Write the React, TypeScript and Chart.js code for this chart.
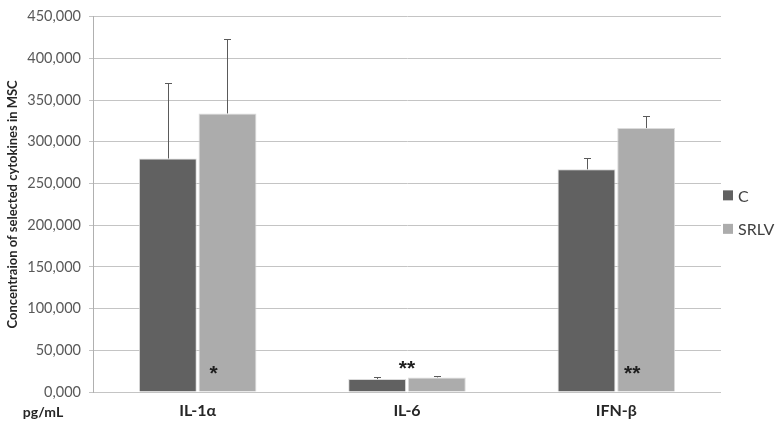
import React, { useEffect, useRef } from "react";
import { Chart, registerables } from "chart.js";

Chart.register(...registerables);

const categories = ["IL-1α", "IL-6", "IFN-β"];
const seriesNames = ["C", "SRLV"];
const cValues = [280, 15.5, 267];
const srlvValues = [334, 17.5, 316.5];
const cErrors = [91, 2, 13.5];
const srlvErrors = [89, 2, 14];
const sigLabels = ["*", "**", "**"];
const yTicks = [0, 50, 100, 150, 200, 250, 300, 350, 400, 450];

const FONT = "Lato, 'Open Sans', sans-serif";
const COLORS = ["#616161", "#acacac"];

const overlayPlugin = {
  id: "overlay",
  afterDatasetsDraw(chart: any) {
    const ctx = chart.ctx;
    const y = chart.scales.y;
    const errs = [cErrors, srlvErrors];
    const vals = [cValues, srlvValues];
    ctx.save();
    // error bars
    ctx.strokeStyle = "#5a5a5a";
    ctx.lineWidth = 1;
    for (let d = 0; d < 2; d++) {
      const meta = chart.getDatasetMeta(d);
      meta.data.forEach((el: any, j: number) => {
        const top = y.getPixelForValue(vals[d][j] + errs[d][j]);
        const x = Math.round(el.x) + 0.5;
        const yt = Math.round(top) + 0.5;
        ctx.beginPath();
        ctx.moveTo(x, el.y);
        ctx.lineTo(x, yt);
        ctx.moveTo(x - 3.5, yt);
        ctx.lineTo(x + 3.5, yt);
        ctx.stroke();
      });
    }
    // significance marks
    ctx.fillStyle = "#1e1e1e";
    ctx.font = `bold 21px 'Liberation Sans', Arial, sans-serif`;
    ctx.textAlign = "center";
    ctx.textBaseline = "middle";
    const m0 = chart.getDatasetMeta(0);
    const m1 = chart.getDatasetMeta(1);
    sigLabels.forEach((lab, j) => {
      const a = m0.data[j];
      const b = m1.data[j];
      const small = srlvValues[j] < 40;
      if (small) {
        const x = (a.x + b.x) / 2;
        const yy = y.getPixelForValue(srlvValues[j] + errs[1][j] + 8);
        ctx.fillText(lab, x, yy);
      } else {
        const x = b.x - b.width * 0.24;
        const yy = y.getPixelForValue(21);
        ctx.fillText(lab, x, yy);
      }
    });
    // y title
    const ca = chart.chartArea;
    ctx.save();
    ctx.translate(13, (ca.top + ca.bottom) / 2);
    ctx.rotate(-Math.PI / 2);
    ctx.fillStyle = "#262626";
    ctx.font = `bold 13px ${FONT}`;
    ctx.textAlign = "center";
    ctx.textBaseline = "middle";
    ctx.fillText("Concentraion of selected cytokines in MSC", 0, 0);
    ctx.restore();
    // unit
    ctx.fillStyle = "#262626";
    ctx.font = `bold 14px ${FONT}`;
    ctx.textAlign = "center";
    ctx.textBaseline = "middle";
    ctx.fillText("pg/mL", 43, ca.bottom + 20);
    // legend
    ctx.font = `16px ${FONT}`;
    ctx.textAlign = "left";
    seriesNames.forEach((n, i) => {
      const cy = (ca.top + ca.bottom) / 2 - 9 + i * 33.5;
      ctx.fillStyle = COLORS[i];
      ctx.fillRect(ca.right + 2, cy - 5, 10, 10);
      ctx.fillStyle = "#404040";
      ctx.fillText(n, ca.right + 17, cy + 1);
    });
    ctx.restore();
  },
};

export default function App() {
  const ref = useRef<HTMLCanvasElement>(null);
  useEffect(() => {
    if (!ref.current) return;
    const chart = new Chart(ref.current, {
      type: "bar",
      data: {
        labels: categories,
        datasets: [
          {
            label: seriesNames[0],
            data: cValues,
            backgroundColor: COLORS[0],
            borderColor: "rgba(215,215,215,0.9)",
            borderWidth: 1,
            categoryPercentage: 0.57,
            barPercentage: 0.97,
          },
          {
            label: seriesNames[1],
            data: srlvValues,
            backgroundColor: COLORS[1],
            borderColor: "rgba(215,215,215,0.9)",
            borderWidth: 1,
            categoryPercentage: 0.57,
            barPercentage: 0.97,
          },
        ],
      },
      options: {
        responsive: false,
        animation: false,
        layout: { padding: { top: 6, right: 57, left: 0, bottom: 0 } },
        plugins: { legend: { display: false }, tooltip: { enabled: false } },
        scales: {
          x: {
            grid: { display: false, drawTicks: false },
            border: { display: false },
            ticks: {
              padding: 9,
              color: "#262626",
              font: { family: FONT, size: 16, weight: "bold" },
            },
            afterFit(s: any) {
              s.height = 33;
            },
          },
          y: {
            min: 0,
            max: 450,
            afterBuildTicks(s: any) {
              s.ticks = yTicks.map((v) => ({ value: v }));
            },
            grid: { color: "#c4c4c4", tickLength: 4, lineWidth: 1 },
            border: { color: "#b0b0b0" },
            ticks: {
              padding: 8,
              color: "#595959",
              font: { family: FONT, size: 14.5 },
              callback: (v: any) => `${v},000`,
            },
            afterFit(s: any) {
              s.width = 93;
            },
          },
        },
      },
      plugins: [overlayPlugin],
    });
    return () => chart.destroy();
  }, []);
  return (
    <div style={{ position: "fixed", left: 0, top: 0, width: 778, height: 425, background: "#fff" }}>
      <canvas ref={ref} width={778} height={425} />
    </div>
  );
}
